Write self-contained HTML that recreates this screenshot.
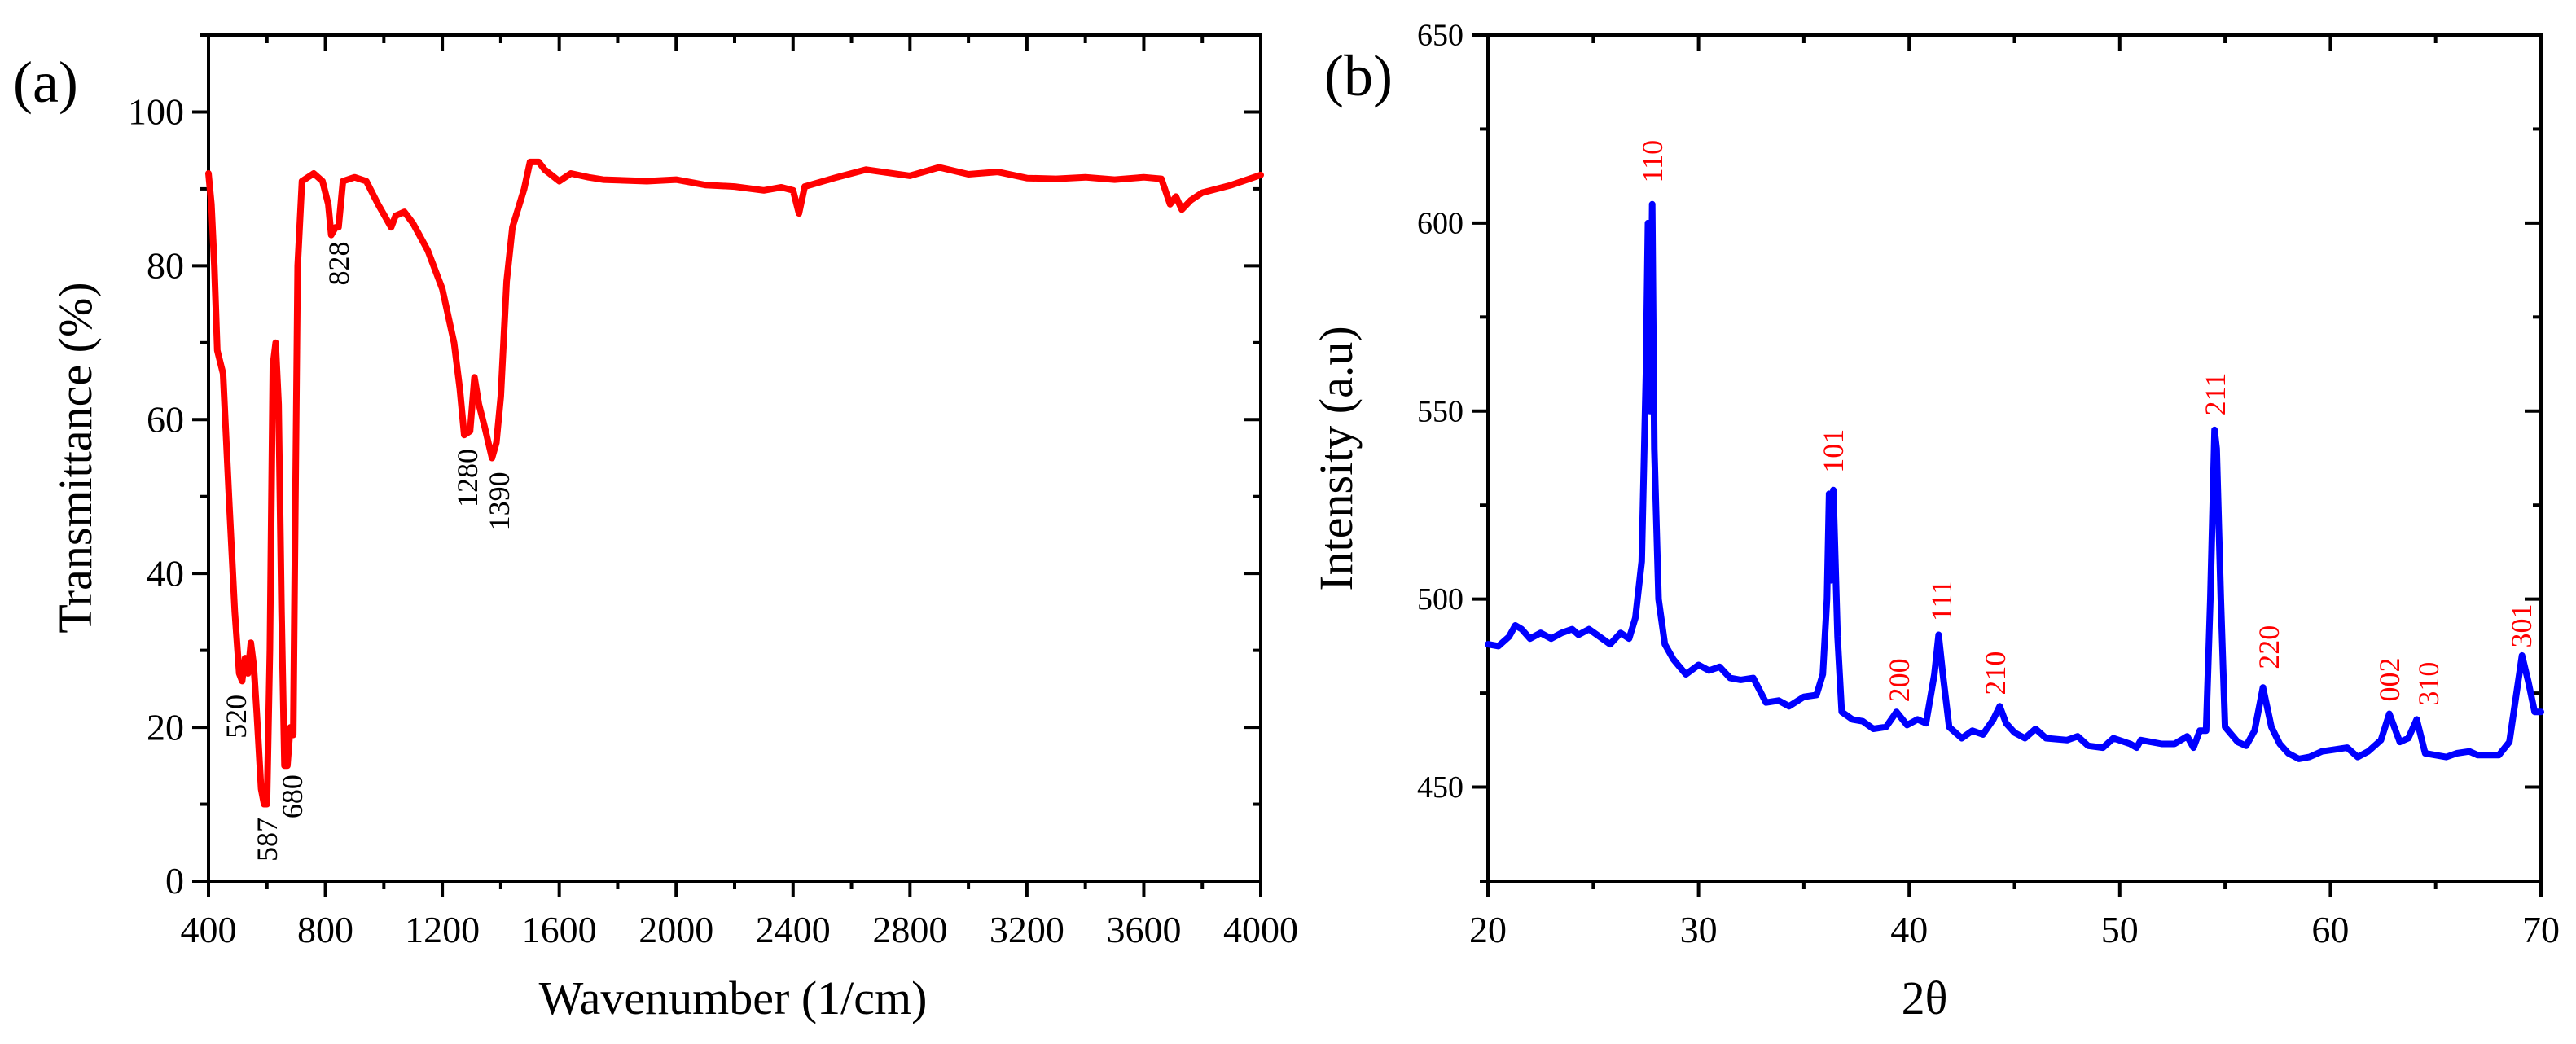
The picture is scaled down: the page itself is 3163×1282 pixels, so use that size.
<!DOCTYPE html>
<html><head><meta charset="utf-8"><style>
html,body{margin:0;padding:0;background:#fff;}
svg{display:block;font-family:"Liberation Serif",serif;}
</style></head>
<body>
<svg id="fig" width="3163" height="1282" viewBox="0 0 3163 1282" xmlns="http://www.w3.org/2000/svg"></svg>
<script>
// ---- Panel (a) FTIR data ----
const ftirWavenumber = [400,410,420,430,450,470,490,505,515,525,535,545,555,565,580,590,600,610,620,630,640,650,660,670,680,690,695,705,720,760,790,810,820,835,845,860,900,940,980,1010,1025,1040,1070,1100,1150,1200,1240,1260,1275,1295,1310,1325,1345,1370,1385,1400,1420,1440,1480,1500,1530,1550,1600,1640,1700,1750,1900,2000,2100,2200,2300,2360,2400,2420,2440,2550,2650,2800,2900,3000,3100,3200,3300,3400,3500,3600,3660,3690,3710,3730,3760,3800,3900,4000];
const ftirTransmittance = [92,88,80,69,66,50,35,27,26,29,27,31,28,22,12,10,10,30,67,70,62,35,15,15,20,19,40,80,91,92,91,88,84,85,85,91,91.5,91,88,86,85,86.5,87,85.5,82,77,70,64,58,58.5,65.5,62,59,55,57,63,78,85,90,93.5,93.5,92.5,91,92,91.5,91.2,91,91.2,90.5,90.3,89.8,90.2,89.8,86.8,90.3,91.5,92.5,91.7,92.8,91.9,92.2,91.4,91.3,91.5,91.2,91.5,91.3,88,89,87.3,88.5,89.5,90.5,91.8];
const ftirXTicks = [400,800,1200,1600,2000,2400,2800,3200,3600,4000];
const ftirYTicks = [0,20,40,60,80,100];
const ftirPeakLabels = ["520","587","680","828","1280","1390"];
const ftirPeakX = [495,600,687,846,1286,1395];
const ftirPeakY = [21.4,5.4,11.0,80.3,52.4,49.4];

// ---- Panel (b) XRD data ----
const xrdTheta = [20,20.5,21,21.3,21.6,22,22.5,23,23.5,24,24.3,24.8,25.3,25.8,26.3,26.7,27.0,27.3,27.5,27.6,27.7,27.8,27.9,28.1,28.4,28.8,29.1,29.4,30.0,30.5,31.0,31.5,32.0,32.6,33.2,33.8,34.3,35.0,35.6,35.9,36.1,36.2,36.3,36.4,36.6,36.8,37.3,37.8,38.3,38.9,39.4,39.9,40.4,40.8,41.2,41.4,41.6,41.9,42.5,43.0,43.5,44.0,44.3,44.6,45.0,45.5,46.0,46.5,47.5,48.0,48.5,49.2,49.7,50.5,50.8,51.0,52.0,52.6,53.2,53.5,53.8,54.1,54.3,54.5,54.6,54.8,55.0,55.6,56.0,56.4,56.8,57.2,57.6,58.0,58.5,59.0,59.6,60.2,60.8,61.3,61.8,62.4,62.8,63.3,63.7,64.1,64.5,65.0,65.5,66.0,66.6,67.0,68.0,68.5,69.1,69.4,69.7,70];
const xrdIntensity = [488,487.5,490,493,492,489.5,491,489.5,491,492,490.5,492,490,488,491,489.5,495,510,560,600,550,605,540,500,488,484,482,480,482.5,481,482,479,478.5,479,472.5,473,471.5,474,474.5,480,500,528,505,529,490,470,468,467.5,465.5,466,470,466.5,468,467,480,490.5,480,466,463,465,464,468,471.5,467,464.5,463,465.5,463,462.5,463.5,461,460.5,463,461.5,460.5,462.5,461.5,461.5,463.5,460.5,465,465,500,545,540,500,466,462,461,465,476.5,466,461.5,459,457.5,458,459.5,460,460.5,458,459.5,462.5,469.5,462,463,468,459,458.5,458,459,459.5,458.5,458.5,462,485,478,470,470];
const xrdXTicks = [20,30,40,50,60,70];
const xrdYTicks = [450,500,550,600,650];
const xrdPeakLabels = ["110","101","200","111","210","211","220","002","310","301"];
const xrdPeakX = [27.81,36.40,39.53,41.54,44.09,54.53,57.08,62.81,64.66,69.07];
const xrdPeakY = [616.4,539.4,478.4,499.6,480.3,554.5,487.2,478.6,477.5,492.9];

const NS = "http://www.w3.org/2000/svg";
const svg = document.getElementById('fig');
function mk(tag, attrs, parent){
  const e = document.createElementNS(NS, tag);
  for (const k in attrs) e.setAttribute(k, attrs[k]);
  (parent||svg).appendChild(e);
  return e;
}

const A = {x0:256, x1:1548, y0:1082, y1:43, xmin:400, xmax:4000, ymin:0, ymax:110};
const B = {x0:1827, x1:3120, y0:1082, y1:43, xmin:20, xmax:70, ymin:425, ymax:650};
function sx(P,v){return P.x0 + (v-P.xmin)/(P.xmax-P.xmin)*(P.x1-P.x0);}
function sy(P,v){return P.y0 - (v-P.ymin)/(P.ymax-P.ymin)*(P.y0-P.y1);}

function frame(P, name, xMajor, xMinorStep, yMajor, yMinorStep, xFont, yFont){
  const g = mk('g', {});
  
  
  mk('rect', {x:P.x0, y:P.y1, width:P.x1-P.x0, height:P.y0-P.y1, fill:'none', stroke:'#000', 'stroke-width':4}, g);
  for (let v = P.xmin; v <= P.xmax + 1e-9; v += xMinorStep) {
    const x = sx(P,v);
    const major = xMajor.some(m => Math.abs(m-v)<1e-6);
    const L = major ? 20 : 10;
    mk('line', {x1:x, x2:x, y1:P.y0, y2:P.y0+L, stroke:'#000','stroke-width':4}, g);
    mk('line', {x1:x, x2:x, y1:P.y1, y2:P.y1+L, stroke:'#000','stroke-width':4}, g);
  }
  for (let v = Math.ceil(P.ymin/yMinorStep)*yMinorStep; v <= P.ymax + 1e-9; v += yMinorStep) {
    const y = sy(P,v);
    const major = yMajor.some(m => Math.abs(m-v)<1e-6);
    const L = major ? 20 : 10;
    mk('line', {x1:P.x0-L, x2:P.x0, y1:y, y2:y, stroke:'#000','stroke-width':4}, g);
    mk('line', {x1:P.x1-L, x2:P.x1, y1:y, y2:y, stroke:'#000','stroke-width':4}, g);
  }
  xMajor.forEach(v => {
    const t = mk('text', {x:sx(P,v), y:P.y0+75, 'text-anchor':'middle', 'font-size':xFont}, g);
    
    
    t.textContent = v;
  });
  yMajor.forEach(v => {
    const t = mk('text', {x:P.x0-30, y:sy(P,v)+yFont*0.33, 'text-anchor':'end', 'font-size':yFont}, g);
    
    
    t.textContent = v;
  });
}

function series(P, xs, ys, color, name){
  const pts = xs.map((x,i)=> sx(P,x).toFixed(1)+','+sy(P,ys[i]).toFixed(1)).join(' ');
  const pl = mk('polyline', {points:pts, fill:'none', stroke:color, 'stroke-width':8, 'stroke-linejoin':'round', 'stroke-linecap':'round'});
  
  
}

function peakLabels(P, labels, xs, ys, color, name){
  labels.forEach((lab,i)=>{
    const x = sx(P,xs[i]), y = sy(P,ys[i]);
    const t = mk('text', {x:0, y:0, transform:`translate(${x+12},${y}) rotate(-90)`, 'text-anchor':'middle', 'font-size':36, fill:color});
    
    
    t.textContent = lab;
  });
}

function label(txt, x, y, size, name, rot){
  const t = mk('text', {x:0, y:0, transform:`translate(${x},${y})` + (rot?` rotate(${rot})`:''), 'text-anchor':'middle', 'font-size':size});
  
  
  t.textContent = txt;
}

// Panel (a)
frame(A, 'ftir', ftirXTicks, 200, ftirYTicks, 10, 46, 46);
series(A, ftirWavenumber, ftirTransmittance, '#ff0000', 'ftir-spectrum-line');
peakLabels(A, ftirPeakLabels, ftirPeakX, ftirPeakY, '#000', 'ftir-peak-label');
label('Transmittance (%)', 112, 562, 58, 'ftir-y-axis-title', -90);
label('Wavenumber (1/cm)', 900, 1245, 58, 'ftir-x-axis-title');
const ta = mk('text', {x:16, y:125, 'font-size':72}); ta.textContent='(a)';



// Panel (b)
frame(B, 'xrd', xrdXTicks, 5, xrdYTicks, 25, 46, 38);
series(B, xrdTheta, xrdIntensity, '#0000ff', 'xrd-pattern-line');
peakLabels(B, xrdPeakLabels, xrdPeakX, xrdPeakY, '#ff0000', 'xrd-peak-label');
label('Intensity (a.u)', 1660, 563, 58, 'xrd-y-axis-title', -90);
label('2θ', 2363, 1245, 58, 'xrd-x-axis-title');
const tb = mk('text', {x:1626, y:117, 'font-size':72}); tb.textContent='(b)';


</script>
</body></html>
